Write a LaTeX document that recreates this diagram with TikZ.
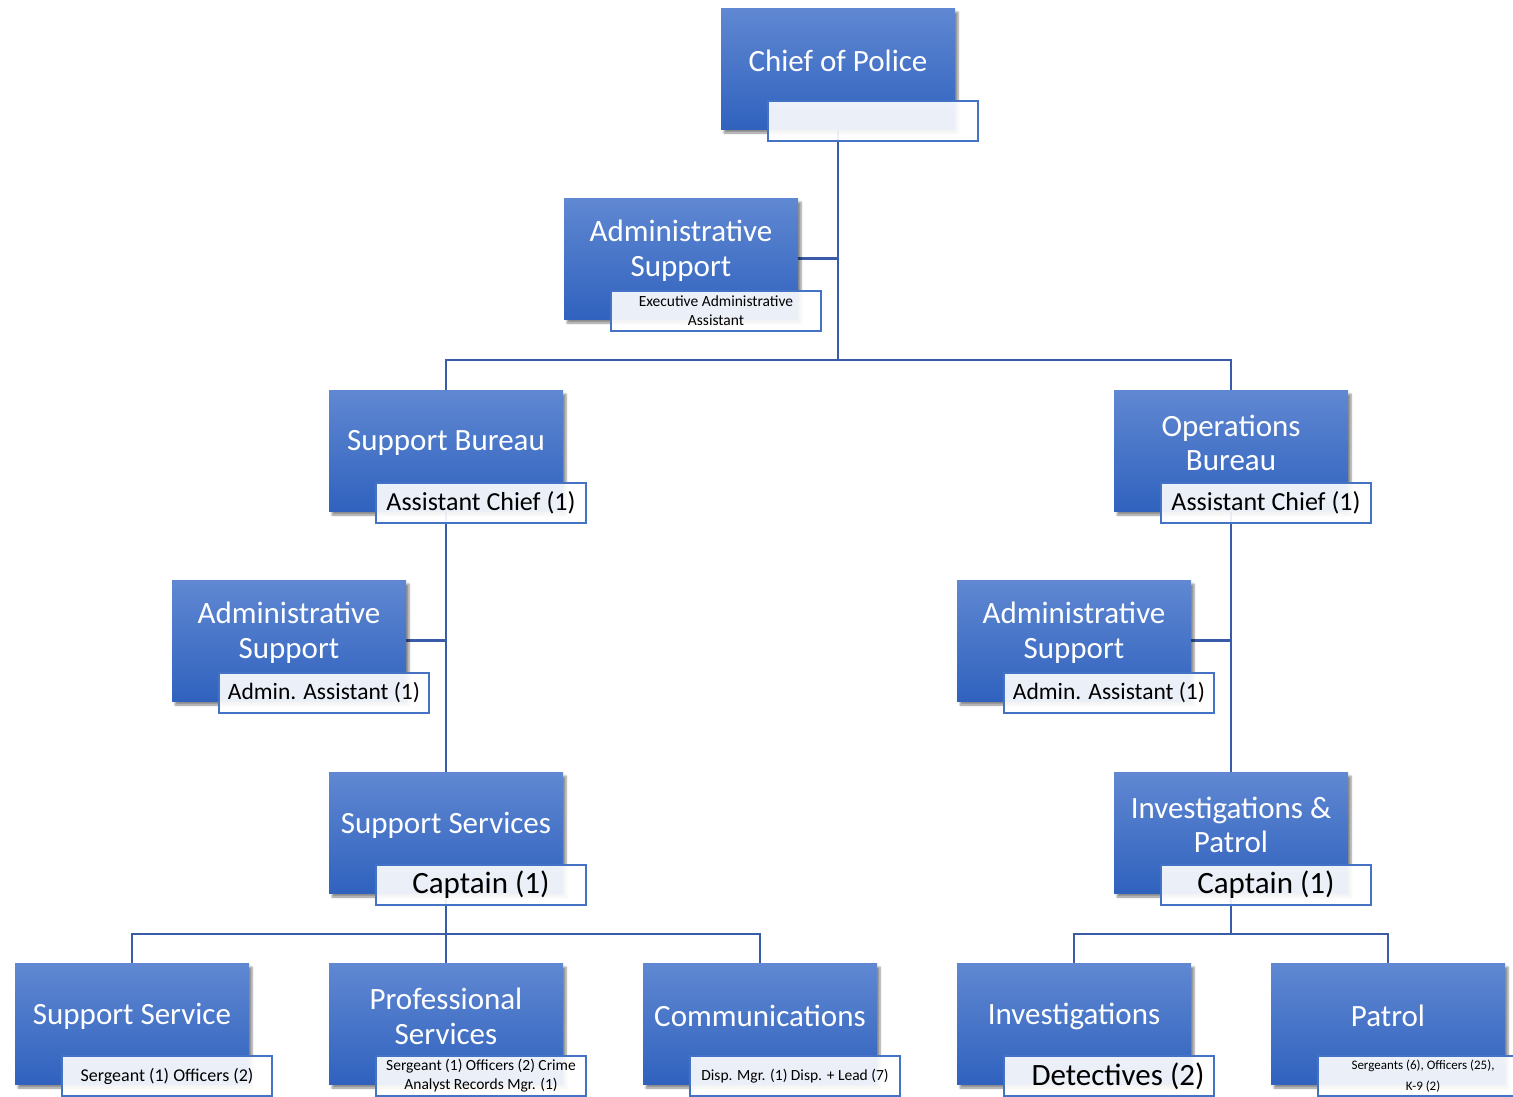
\documentclass[tikz,border=0pt]{standalone}
\usepackage{fontspec}
\setmainfont{Carlito}
\usetikzlibrary{shadows.blur}
\definecolor{boxtop}{RGB}{96,136,210}
\definecolor{boxbot}{RGB}{48,98,190}
\definecolor{subedge}{RGB}{68,114,196}
\definecolor{linec}{RGB}{58,92,168}
\tikzset{
  bluebox/.style={rectangle, minimum width=234pt, minimum height=121pt, inner sep=0pt,
    top color=boxtop, bottom color=boxbot, draw=none,
    blur shadow={shadow xshift=3pt, shadow yshift=-4pt, shadow blur steps=6, shadow opacity=45}},
  title/.style={text=white, align=center, font=\fontsize{31}{35}\selectfont, inner sep=0pt},
  subbox/.style={rectangle, minimum width=210pt, minimum height=40pt, inner sep=0pt,
    draw=subedge, line width=1.3pt, fill=white, fill opacity=0.9, text opacity=1, align=center},
  conn/.style={draw=linec, line width=2.6pt},
}
\newcommand{\orgunit}[6]{% name, x, y, title, sub font, sub text
  \node[bluebox] (#1) at (#2,#3) {};
  \node[title] (#1t) at ([yshift=7.5pt]#1.center) {#4};
  \node[subbox, font=#5] (#1s) at ([xshift=35pt,yshift=-52.5pt]#1.center) {#6};
}
\begin{document}
\begin{tikzpicture}[x=1pt,y=-1pt]
\useasboundingbox (0,0) rectangle (1513,1096);
\clip (0,0) rectangle (1513,1096);
% junction coordinates
\coordinate (j1) at (838,360);
\coordinate (j2) at (446,934);
\coordinate (j3) at (1231,934);
% centers
\coordinate (cchief) at (838,68.5);
\coordinate (cadm) at (681,258.5);
\coordinate (csb) at (446,450.5);
\coordinate (cob) at (1231,450.5);
\coordinate (cadl) at (289,640.5);
\coordinate (cadr) at (1074,640.5);
\coordinate (css) at (446,832.5);
\coordinate (cip) at (1231,832.5);
\coordinate (cssv) at (132,1023.5);
\coordinate (cps) at (446,1023.5);
\coordinate (ccom) at (760,1023.5);
\coordinate (cinv) at (1074,1023.5);
\coordinate (cpat) at (1388,1023.5);
% connectors (behind boxes)
\draw[conn] (cchief) -- (j1);
\draw[conn] (cadm) -- (cadm -| j1);
\draw[conn] (csb) -- (csb |- j1) -- (cob |- j1) -- (cob);
\draw[conn] (csb) -- (css);
\draw[conn] (cadl) -- (cadl -| csb);
\draw[conn] (cob) -- (cip);
\draw[conn] (cadr) -- (cadr -| cob);
\draw[conn] (css) -- (j2);
\draw[conn] (cssv) -- (cssv |- j2) -- (ccom |- j2) -- (ccom);
\draw[conn] (j2) -- (cps);
\draw[conn] (cip) -- (j3);
\draw[conn] (cinv) -- (cinv |- j3) -- (cpat |- j3) -- (cpat);
% units
\orgunit{chief}{838}{68.5}{Chief of Police}{\fontsize{15.5}{19}\selectfont}{}
\orgunit{adm}{681}{258.5}{Administrative\\Support}{\fontsize{15.5}{19}\selectfont}{Executive Administrative\\Assistant}
\orgunit{sb}{446}{450.5}{Support Bureau}{\fontsize{26}{28}\selectfont}{Assistant Chief (1)}
\orgunit{ob}{1231}{450.5}{Operations\\[-1pt]Bureau}{\fontsize{26}{28}\selectfont}{Assistant Chief (1)}
\orgunit{adl}{289}{640.5}{Administrative\\Support}{\fontsize{23.5}{26}\selectfont}{Admin. Assistant (1)}
\orgunit{adr}{1074}{640.5}{Administrative\\Support}{\fontsize{23.5}{26}\selectfont}{Admin. Assistant (1)}
\orgunit{ss}{446}{832.5}{Support Services}{\fontsize{31}{33}\selectfont}{Captain (1)}
\orgunit{ip}{1231}{832.5}{Investigations \&\\[-1pt]Patrol}{\fontsize{31}{33}\selectfont}{Captain (1)}
\orgunit{ssv}{132}{1023.5}{Support Service}{\fontsize{18}{20}\selectfont}{Sergeant (1) Officers (2)}
\orgunit{ps}{446}{1023.5}{Professional\\Services}{\fontsize{15.5}{19}\selectfont}{Sergeant (1) Officers (2) Crime\\Analyst Records Mgr. (1)}
\orgunit{com}{760}{1023.5}{Communications}{\fontsize{15.5}{18}\selectfont}{Disp. Mgr. (1) Disp. + Lead (7)}
\orgunit{inv}{1074}{1023.5}{Investigations}{\fontsize{31}{33}\selectfont}{\hspace*{18pt}Detectives (2)}
\orgunit{pat}{1388}{1023.5}{Patrol}{\fontsize{13}{21}\selectfont}{Sergeants (6), Officers (25),\\K-9 (2)}
\end{tikzpicture}
\end{document}
